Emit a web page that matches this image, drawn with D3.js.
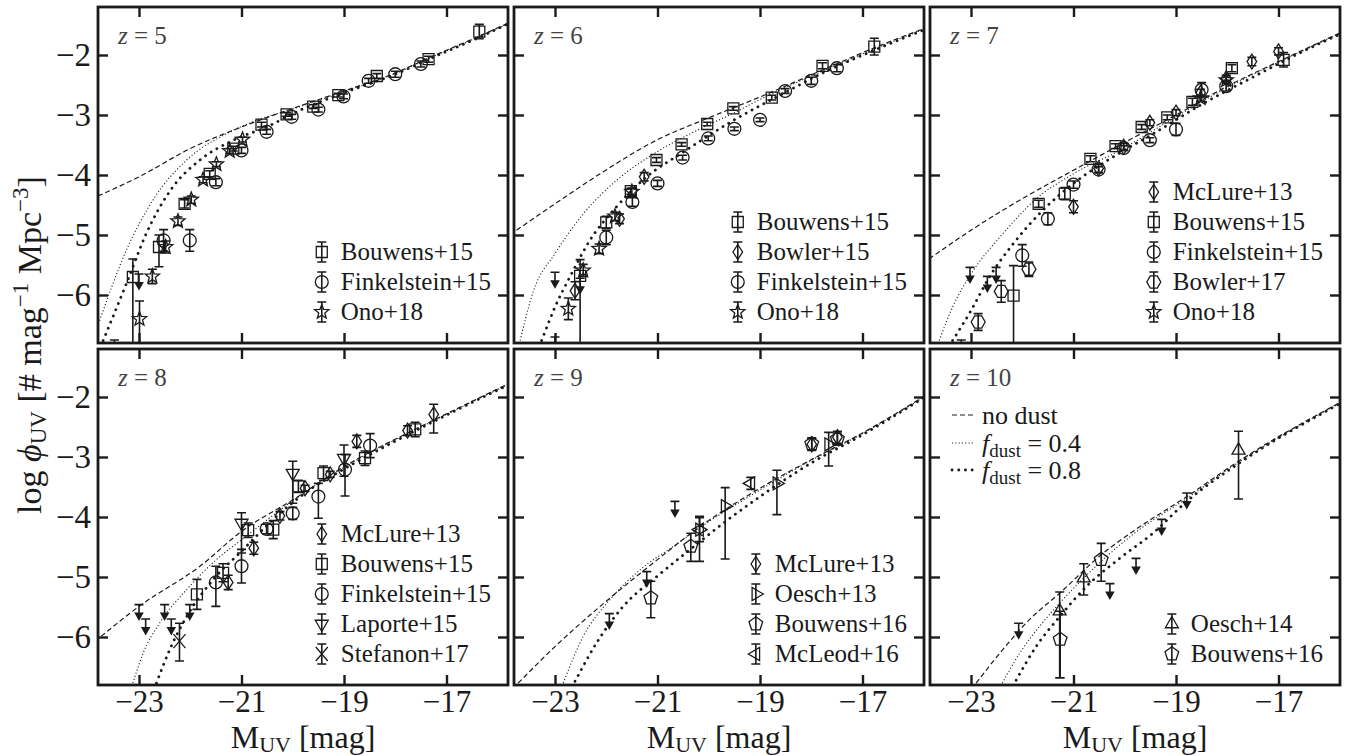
<!DOCTYPE html>
<html lang="en">
<head>
<meta charset="UTF-8">
<title>UV luminosity functions, z = 5-10</title>
<script src="https://cdn.jsdelivr.net/npm/d3@7"></script>
<style>
  body { margin: 0; background: #fff; }
  svg text { font-family: "Liberation Serif", "DejaVu Serif", serif; fill: #1a1a1a; }
</style>
</head>
<body>
<svg id="chart" width="1352" height="756"></svg>
<script>
// axis ticks
var xTicks = [-23, -21, -19, -17];
var yTicks = [-2, -3, -4, -5, -6];
var redshifts = [5, 6, 7, 8, 9, 10];

// observed points: [M_UV, log phi, err down, err up (defaults to err down)]
var z5_bouwens15 = [[-16.36,-1.61,0.12],[-17.35,-2.07,0.05],[-18.36,-2.35,0.04],[-19.11,-2.67,0.03],[-19.6,-2.86,0.03],[-20.12,-2.99,0.03],[-20.61,-3.16,0.04],[-21.16,-3.56,0.04],[-21.62,-3.98,0.05],[-22.11,-4.48,0.07],[-22.61,-5.2,0.33,0.2],[-23.12,-5.7,1.5,0.3],[-23.48,-7.1,0.2,0.35]];
var z5_finkelstein15 = [[-17.5,-2.15,0.05],[-18.0,-2.32,0.05],[-18.52,-2.43,0.04],[-19.01,-2.69,0.04],[-19.5,-2.91,0.04],[-20.02,-3.03,0.04],[-20.51,-3.28,0.04],[-21.0,-3.59,0.05],[-21.5,-4.12,0.06],[-22.01,-5.09,0.18],[-22.52,-5.09,0.18]];
var z5_ono18 = [[-20.98,-3.41,0.04],[-21.23,-3.6,0.04],[-21.49,-3.82,0.04],[-21.75,-4.08,0.05],[-21.98,-4.41,0.06],[-22.24,-4.77,0.07],[-22.48,-5.2,0.1],[-22.74,-5.69,0.12],[-22.99,-6.4,0.4,0.3]];
var z5_limits = [[-23.0,-5.65]];

var z6_bouwens15 = [[-16.77,-1.86,0.14],[-17.78,-2.18,0.05],[-18.77,-2.71,0.04],[-19.52,-2.89,0.03],[-20.03,-3.15,0.03],[-20.53,-3.49,0.03],[-21.02,-3.75,0.04],[-21.52,-4.27,0.05],[-22.0,-4.79,0.1],[-22.51,-5.68,1.5,0.27],[-23.0,-7.0,0.2,0.3]];
var z6_bowler15 = [[-21.26,-4.03,0.07],[-21.74,-4.73,0.08],[-22.61,-5.93,0.15]];
var z6_finkelstein15 = [[-17.5,-2.22,0.06],[-18.0,-2.43,0.06],[-18.51,-2.6,0.04],[-19.0,-3.08,0.03],[-19.5,-3.23,0.03],[-20.01,-3.39,0.04],[-20.51,-3.71,0.04],[-21.0,-4.14,0.05],[-21.49,-4.45,0.07],[-22.0,-5.04,0.12]];
var z6_ono18 = [[-21.5,-4.28,0.06],[-21.83,-4.69,0.07],[-22.14,-5.23,0.08],[-22.45,-5.59,0.1],[-22.74,-6.23,0.18]];
var z6_limits = [[-23.0,-5.62],[-22.51,-5.72]];

var z7_mclure13 = [[-17.0,-1.94,0.06],[-17.52,-2.11,0.07],[-18.02,-2.39,0.05],[-18.52,-2.63,0.06],[-19.0,-2.96,0.05],[-19.51,-3.13,0.05],[-20.02,-3.53,0.06],[-20.51,-3.89,0.07],[-21.0,-4.53,0.1]];
var z7_bouwens15 = [[-16.9,-2.08,0.12],[-17.91,-2.22,0.06],[-18.68,-2.78,0.06],[-19.17,-3.04,0.04],[-19.67,-3.2,0.04],[-20.18,-3.52,0.04],[-20.67,-3.73,0.05],[-21.17,-4.31,0.1],[-21.68,-4.48,0.06],[-22.17,-6.01,1.5,0.5],[-23.19,-7.0,0.2,0.25]];
var z7_finkelstein15 = [[-18.02,-2.52,0.08],[-18.5,-2.58,0.12],[-19.0,-3.24,0.1],[-19.51,-3.42,0.04],[-20.02,-3.55,0.04],[-20.51,-3.91,0.05],[-21.0,-4.16,0.06],[-21.5,-4.73,0.1],[-22.0,-5.34,0.18]];
var z7_bowler17 = [[-21.87,-5.57,0.12],[-22.41,-5.94,0.18],[-22.86,-6.45,0.14]];
var z7_ono18 = [[-18.52,-2.72,0.05],[-18.02,-2.42,0.05]];
var z7_limits = [[-23.02,-5.54],[-22.68,-5.69],[-22.51,-5.54]];

var z8_mclure13 = [[-17.25,-2.29,0.31,0.17],[-17.76,-2.56,0.08],[-18.75,-2.74,0.1],[-19.27,-3.29,0.05],[-19.76,-3.52,0.05],[-20.25,-3.98,0.07],[-20.76,-4.52,0.1],[-21.26,-5.09,0.12]];
var z8_bouwens15 = [[-17.61,-2.54,0.12],[-18.59,-3.02,0.12],[-19.4,-3.27,0.12],[-19.89,-3.49,0.1],[-20.38,-4.21,0.15],[-20.87,-4.22,0.12],[-21.36,-4.93,0.15],[-21.87,-5.29,0.25]];
var z8_finkelstein15 = [[-18.49,-2.81,0.2],[-18.98,-3.21,0.44,0.25],[-19.5,-3.66,0.36,0.22],[-20.0,-3.94,0.1],[-20.51,-4.2,0.08],[-21.0,-4.82,0.28],[-21.5,-5.09,0.4,0.27]];
var z8_laporte15 = [[-19.0,-3.02,0.3,0.22],[-20.0,-3.27,0.5,0.2],[-21.0,-4.1,0.5,0.17]];
var z8_stefanon17 = [[-22.21,-6.07,0.33,0.3]];
var z8_limits = [[-23.0,-5.46],[-22.87,-5.7],[-22.5,-5.46],[-22.37,-5.7],[-22.01,-5.46]];

var z9_mclure13 = [[-17.49,-2.67,0.1],[-17.99,-2.79,0.1]];
var z9_oesch13 = [[-17.66,-2.79,0.36,0.2],[-18.67,-3.44,0.52,0.22],[-19.68,-3.82,0.88,0.31],[-20.18,-4.21,0.53,0.22]];
var z9_bouwens16 = [[-17.49,-2.7,0.1],[-17.99,-2.78,0.1],[-20.35,-4.49,0.25,0.22],[-21.13,-5.35,0.33,0.28]];
var z9_mcleod16 = [[-19.18,-3.44,0.1],[-20.18,-4.21,0.2]];
var z9_limits = [[-20.66,-3.74],[-21.21,-4.91],[-21.94,-5.61]];

var z10_oesch14 = [[-17.78,-2.89,0.81,0.32],[-20.8,-5.02,0.28,0.24],[-21.27,-5.57,1.11,0.32]];
var z10_bouwens16 = [[-20.46,-4.71,0.36,0.27],[-21.26,-6.04,0.64,0.47]];
var z10_limits = [[-22.07,-5.77],[-20.29,-5.11],[-19.78,-4.69],[-19.28,-4.04],[-18.79,-3.6]];

// model curves: [M_UV, log phi]
var z5_nodust = [[-23.8,-4.35],[-23,-4.03],[-22,-3.56],[-21,-3.2],[-20,-2.89],[-19,-2.6],[-18,-2.3],[-17.35,-2.05],[-16.4,-1.7],[-15.8,-1.47]];
var z5_dust04 = [[-23.77,-6.43],[-23.25,-5.26],[-22.73,-4.42],[-22.07,-3.75],[-21.29,-3.31],[-20.71,-3.09],[-20,-2.9],[-19,-2.61],[-18,-2.31],[-17.35,-2.06],[-16.4,-1.71],[-15.8,-1.48]];
var z5_dust08 = [[-23.7,-6.76],[-23.25,-5.82],[-22.86,-4.98],[-22.34,-4.2],[-21.81,-3.75],[-21.16,-3.42],[-20.51,-3.2],[-19.86,-2.92],[-19,-2.63],[-18,-2.32],[-17.35,-2.07],[-16.4,-1.72],[-15.8,-1.48]];

var z6_nodust = [[-23.75,-4.92],[-23,-4.48],[-22.12,-3.98],[-21.02,-3.42],[-20.04,-3.06],[-19,-2.7],[-17.78,-2.25],[-16.77,-1.88],[-15.8,-1.56]];
var z6_dust04 = [[-23.68,-6.76],[-23.42,-5.93],[-23,-5.31],[-22.45,-4.65],[-21.8,-4.09],[-21.02,-3.62],[-20.17,-3.23],[-19.52,-2.97],[-19,-2.74],[-17.78,-2.27],[-16.77,-1.9],[-15.8,-1.57]];
var z6_dust08 = [[-23.26,-6.76],[-23,-6.2],[-22.71,-5.7],[-22.32,-5.09],[-21.8,-4.53],[-21.21,-4.03],[-20.5,-3.62],[-19.52,-3.09],[-18.54,-2.64],[-17.78,-2.3],[-16.77,-1.92],[-15.8,-1.58]];

var z7_nodust = [[-23.82,-5.4],[-23,-4.92],[-22.05,-4.42],[-21,-3.92],[-20.1,-3.5],[-19,-3.0],[-18.02,-2.53],[-17,-2.11],[-15.82,-1.64]];
var z7_dust04 = [[-23.62,-6.76],[-23.36,-6.2],[-23,-5.65],[-22.38,-4.98],[-21.73,-4.4],[-21,-3.98],[-20.1,-3.59],[-19,-3.03],[-18.02,-2.55],[-17,-2.12],[-15.82,-1.65]];
var z7_dust08 = [[-23.36,-6.76],[-23,-6.26],[-22.64,-5.7],[-22.18,-5.15],[-21.6,-4.59],[-21,-4.14],[-20.23,-3.7],[-19.44,-3.31],[-18.47,-2.81],[-17.5,-2.37],[-16.5,-1.93],[-15.82,-1.66]];

var z8_nodust = [[-23.74,-5.99],[-23,-5.49],[-21.81,-4.82],[-21,-4.24],[-19.99,-3.71],[-19,-3.16],[-17.76,-2.6],[-17,-2.28],[-15.82,-1.79]];
var z8_dust04 = [[-23.12,-6.77],[-22.92,-6.27],[-22.6,-5.77],[-22.07,-5.21],[-21.49,-4.71],[-21,-4.38],[-20,-3.73],[-19,-3.17],[-17.76,-2.61],[-17,-2.29],[-15.82,-1.8]];
var z8_dust08 = [[-22.66,-6.77],[-22.4,-6.21],[-22.07,-5.66],[-21.55,-5.04],[-21,-4.57],[-20.38,-4.04],[-19.66,-3.54],[-19,-3.2],[-17.76,-2.63],[-17,-2.3],[-15.82,-1.81]];

var z9_nodust = [[-23.72,-6.77],[-23,-6.16],[-22.12,-5.49],[-21,-4.71],[-20.17,-4.16],[-19,-3.52],[-17.99,-3.04],[-17,-2.6],[-15.8,-1.99]];
var z9_dust04 = [[-22.84,-6.77],[-22.45,-5.99],[-21.93,-5.38],[-21.34,-4.88],[-20.69,-4.49],[-20.04,-4.1],[-19,-3.55],[-17.99,-3.05],[-17,-2.61],[-15.8,-2.0]];
var z9_dust08 = [[-22.61,-6.74],[-22.19,-6.1],[-21.67,-5.49],[-21.01,-4.99],[-20.36,-4.54],[-19.71,-4.1],[-19,-3.66],[-18,-3.1],[-17,-2.63],[-15.8,-2.01]];

var z10_nodust = [[-22.9,-6.77],[-22.38,-6.21],[-21.86,-5.71],[-21.27,-5.27],[-20.46,-4.63],[-19.84,-4.24],[-18.79,-3.66],[-17.78,-3.07],[-15.82,-2.1]];
var z10_dust04 = [[-22.39,-6.77],[-22.05,-6.27],[-21.66,-5.82],[-21.21,-5.38],[-20.46,-4.74],[-19.84,-4.29],[-18.79,-3.69],[-17.78,-3.09],[-15.82,-2.11]];
var z10_dust08 = [[-22.12,-6.72],[-21.73,-6.16],[-21.27,-5.66],[-20.75,-5.16],[-20.1,-4.69],[-19.45,-4.27],[-18.79,-3.74],[-17.78,-3.11],[-15.82,-2.12]];

var panels = [
  {sets: [["Bouwens+15","square",z5_bouwens15],["Finkelstein+15","circle",z5_finkelstein15],["Ono+18","star",z5_ono18]],
   limits: z5_limits, curves: [z5_nodust, z5_dust04, z5_dust08]},
  {sets: [["Bouwens+15","square",z6_bouwens15],["Bowler+15","diamond",z6_bowler15],["Finkelstein+15","circle",z6_finkelstein15],["Ono+18","star",z6_ono18]],
   limits: z6_limits, curves: [z6_nodust, z6_dust04, z6_dust08]},
  {sets: [["McLure+13","diamond",z7_mclure13],["Bouwens+15","square",z7_bouwens15],["Finkelstein+15","circle",z7_finkelstein15],["Bowler+17","hexagon",z7_bowler17],["Ono+18","star",z7_ono18]],
   limits: z7_limits, curves: [z7_nodust, z7_dust04, z7_dust08]},
  {sets: [["McLure+13","diamond",z8_mclure13],["Bouwens+15","square",z8_bouwens15],["Finkelstein+15","circle",z8_finkelstein15],["Laporte+15","tridown",z8_laporte15],["Stefanon+17","cross",z8_stefanon17]],
   limits: z8_limits, curves: [z8_nodust, z8_dust04, z8_dust08]},
  {sets: [["McLure+13","diamond",z9_mclure13],["Oesch+13","triright",z9_oesch13],["Bouwens+16","pentagon",z9_bouwens16],["McLeod+16","trileft",z9_mcleod16]],
   limits: z9_limits, curves: [z9_nodust, z9_dust04, z9_dust08]},
  {sets: [["Oesch+14","triup",z10_oesch14],["Bouwens+16","pentagon",z10_bouwens16]],
   limits: z10_limits, curves: [z10_nodust, z10_dust04, z10_dust08]}
];

var ink = "#1a1a1a";
var colLeft = [98, 514, 930], rowTop = [7, 349];
var pw = 410, ph = 336;

var svg = d3.select("#chart");
var x = d3.scaleLinear().domain([-23.8, -15.8]).range([0, pw]);
var y = d3.scaleLinear().domain([-1.2, -6.8]).range([0, ph]);

// line styles: no dust, f_dust = 0.4, f_dust = 0.8
var curveStyles = [
  {w: 1.2, dash: "5,3", cap: "butt"},
  {w: 1.1, dash: "1.1,2.2", cap: "butt"},
  {w: 2.8, dash: "0.1,6.6", cap: "round"}
];

function poly(n, r, rot) {
  var pts = d3.range(n).map(function(i) {
    var a = rot + i * 2 * Math.PI / n;
    return [(r * Math.sin(a)).toFixed(2), (-r * Math.cos(a)).toFixed(2)];
  });
  return "M" + pts.join("L") + "Z";
}
function starPath(ro, ri) {
  var pts = d3.range(10).map(function(i) {
    var r = i % 2 ? ri : ro, a = i * Math.PI / 5;
    return [(r * Math.sin(a)).toFixed(2), (-r * Math.cos(a)).toFixed(2)];
  });
  return "M" + pts.join("L") + "Z";
}
var markers = {
  square: "M-5.5,-5.5H5.5V5.5H-5.5Z",
  circle: d3.symbol(d3.symbolCircle, 130)(),
  diamond: "M0,-7.5L4.8,0L0,7.5L-4.8,0Z",
  star: starPath(7.5, 3.2),
  tridown: poly(3, 7.5, Math.PI),
  triup: poly(3, 7.5, 0),
  triright: poly(3, 7.5, Math.PI / 2),
  trileft: poly(3, 7.5, -Math.PI / 2),
  pentagon: poly(5, 7.2, 0),
  hexagon: poly(6, 7, Math.PI / 6),
  cross: "M-6,-7L6,7M-6,7L6,-7"
};

function errorBar(g, cx, y0, y1) {
  g.append("path")
    .attr("d", "M" + cx + "," + y0 + "V" + y1 + "M" + (cx - 4.5) + "," + y0 + "H" + (cx + 4.5) +
               "M" + (cx - 4.5) + "," + y1 + "H" + (cx + 4.5))
    .attr("stroke", ink).attr("stroke-width", 1.6).attr("fill", "none");
}
function marker(g, type, cx, cy) {
  g.append("path").attr("d", markers[type])
    .attr("transform", "translate(" + cx + "," + cy + ")")
    .attr("fill", "none").attr("stroke", ink).attr("stroke-width", 1.3);
}

var line = d3.line().x(function(d) { return x(d[0]); }).y(function(d) { return y(d[1]); })
  .curve(d3.curveMonotoneX);

panels.forEach(function(p, i) {
  var col = i % 3, row = Math.floor(i / 3);
  var g = svg.append("g").attr("transform", "translate(" + colLeft[col] + "," + rowTop[row] + ")");
  g.append("clipPath").attr("id", "clip" + i).append("rect").attr("width", pw).attr("height", ph);
  var plot = g.append("g").attr("clip-path", "url(#clip" + i + ")");

  p.curves.forEach(function(c, k) {
    var s = curveStyles[k];
    plot.append("path").datum(c).attr("d", line)
      .attr("fill", "none").attr("stroke", ink)
      .attr("stroke-width", s.w).attr("stroke-dasharray", s.dash).attr("stroke-linecap", s.cap);
  });

  p.sets.forEach(function(s) {
    s[2].forEach(function(d) {
      var lo = d[2], hi = d[3] === undefined ? d[2] : d[3];
      errorBar(plot, x(d[0]), y(d[1] + hi), y(d[1] - lo));
      marker(plot, s[1], x(d[0]), y(d[1]));
    });
  });

  // upper limits: cap at the limit, arrow pointing down
  p.limits.forEach(function(d) {
    var cx = x(d[0]), cy = y(d[1]);
    plot.append("path")
      .attr("d", "M" + (cx - 4.5) + "," + cy + "H" + (cx + 4.5) + "M" + cx + "," + cy + "V" + (cy + 9))
      .attr("stroke", ink).attr("stroke-width", 1.6).attr("fill", "none");
    plot.append("path")
      .attr("d", "M" + (cx - 4.8) + "," + (cy + 8) + "H" + (cx + 4.8) + "L" + cx + "," + (cy + 16.5) + "Z")
      .attr("fill", ink);
  });

  // axes, ticks inward on all four sides
  var axes = [
    [d3.axisLeft(y), 0, 0, col === 0],
    [d3.axisRight(y), pw, 0, false],
    [d3.axisTop(x), 0, 0, false],
    [d3.axisBottom(x), 0, ph, row === 1]
  ];
  axes.forEach(function(a, k) {
    var ax = a[0].tickValues(k < 2 ? yTicks : xTicks).tickFormat(d3.format("d"))
      .tickSize(-10).tickPadding(k === 0 ? 7 : 5);
    var ag = g.append("g").attr("transform", "translate(" + a[1] + "," + a[2] + ")").call(ax);
    ag.select(".domain").remove();
    ag.selectAll(".tick line").attr("stroke", ink).attr("stroke-width", 2.4);
    ag.selectAll("text").attr("font-family", null).attr("font-size", k === 0 ? "33px" : "31px").attr("fill", ink);
    if (!a[3]) ag.selectAll("text").remove();
  });

  g.append("rect").attr("width", pw).attr("height", ph)
    .attr("fill", "none").attr("stroke", ink).attr("stroke-width", 2.8);

  // redshift label
  var zt = g.append("text").attr("x", 20).attr("y", 37).attr("font-size", "25px").style("fill", "#444");
  zt.append("tspan").attr("font-style", "italic").text("z");
  zt.append("tspan").text(" = " + redshifts[i]);

  // legend, right aligned, bottom row 31px above the frame
  var lg = g.append("g");
  var n = p.sets.length;
  var widest = 0;
  p.sets.forEach(function(s, k) {
    var cy = ph - 31 - (n - 1 - k) * 30;
    var t = lg.append("text").attr("x", 19).attr("y", cy).attr("dy", "0.33em")
      .attr("font-size", "25px").text(s[0]);
    widest = Math.max(widest, t.node().getComputedTextLength());
    errorBar(lg, 0, cy - 10, cy + 10);
    marker(lg, s[1], 0, cy);
  });
  lg.attr("transform", "translate(" + (pw - 17 - 19 - widest) + ",0)");

  if (row === 1) {
    var xl = g.append("text").attr("x", pw / 2).attr("y", ph + 63)
      .attr("text-anchor", "middle").attr("font-size", "32px");
    xl.append("tspan").text("M");
    xl.append("tspan").attr("font-size", "22px").attr("dy", 4).text("UV");
    xl.append("tspan").attr("dy", -4).text(" [mag]");
  }
});

// model legend in the z = 10 panel
var dl = svg.append("g").attr("transform", "translate(" + colLeft[2] + "," + rowTop[1] + ")");
var dustLabels = ["no dust", "0.4", "0.8"];
[66, 94, 121].forEach(function(cy, k) {
  var s = curveStyles[k];
  dl.append("path").attr("d", "M22," + cy + "H44")
    .attr("fill", "none").attr("stroke", ink)
    .attr("stroke-width", s.w).attr("stroke-dasharray", s.dash).attr("stroke-linecap", s.cap);
  var t = dl.append("text").attr("x", 52).attr("y", cy).attr("dy", "0.33em").attr("font-size", "26px");
  if (k === 0) { t.text(dustLabels[0]); return; }
  t.append("tspan").attr("font-style", "italic").text("f");
  t.append("tspan").attr("font-size", "19px").attr("dy", 5).text("dust");
  t.append("tspan").attr("dy", -5).text(" = " + dustLabels[k]);
});

// shared y label
var yl = svg.append("text").attr("transform", "translate(41,345) rotate(-90)")
  .attr("text-anchor", "middle").attr("font-size", "34px");
yl.append("tspan").text("log ");
yl.append("tspan").attr("font-style", "italic").text("\u03d5");
yl.append("tspan").attr("font-size", "23px").attr("dy", 5).text("UV");
yl.append("tspan").attr("dy", -5).text(" [# mag");
yl.append("tspan").attr("font-size", "23px").attr("dy", -13).text("\u22121");
yl.append("tspan").attr("dy", 13).text(" Mpc");
yl.append("tspan").attr("font-size", "23px").attr("dy", -13).text("\u22123");
yl.append("tspan").attr("dy", 13).text("]");
</script>
</body>
</html>
